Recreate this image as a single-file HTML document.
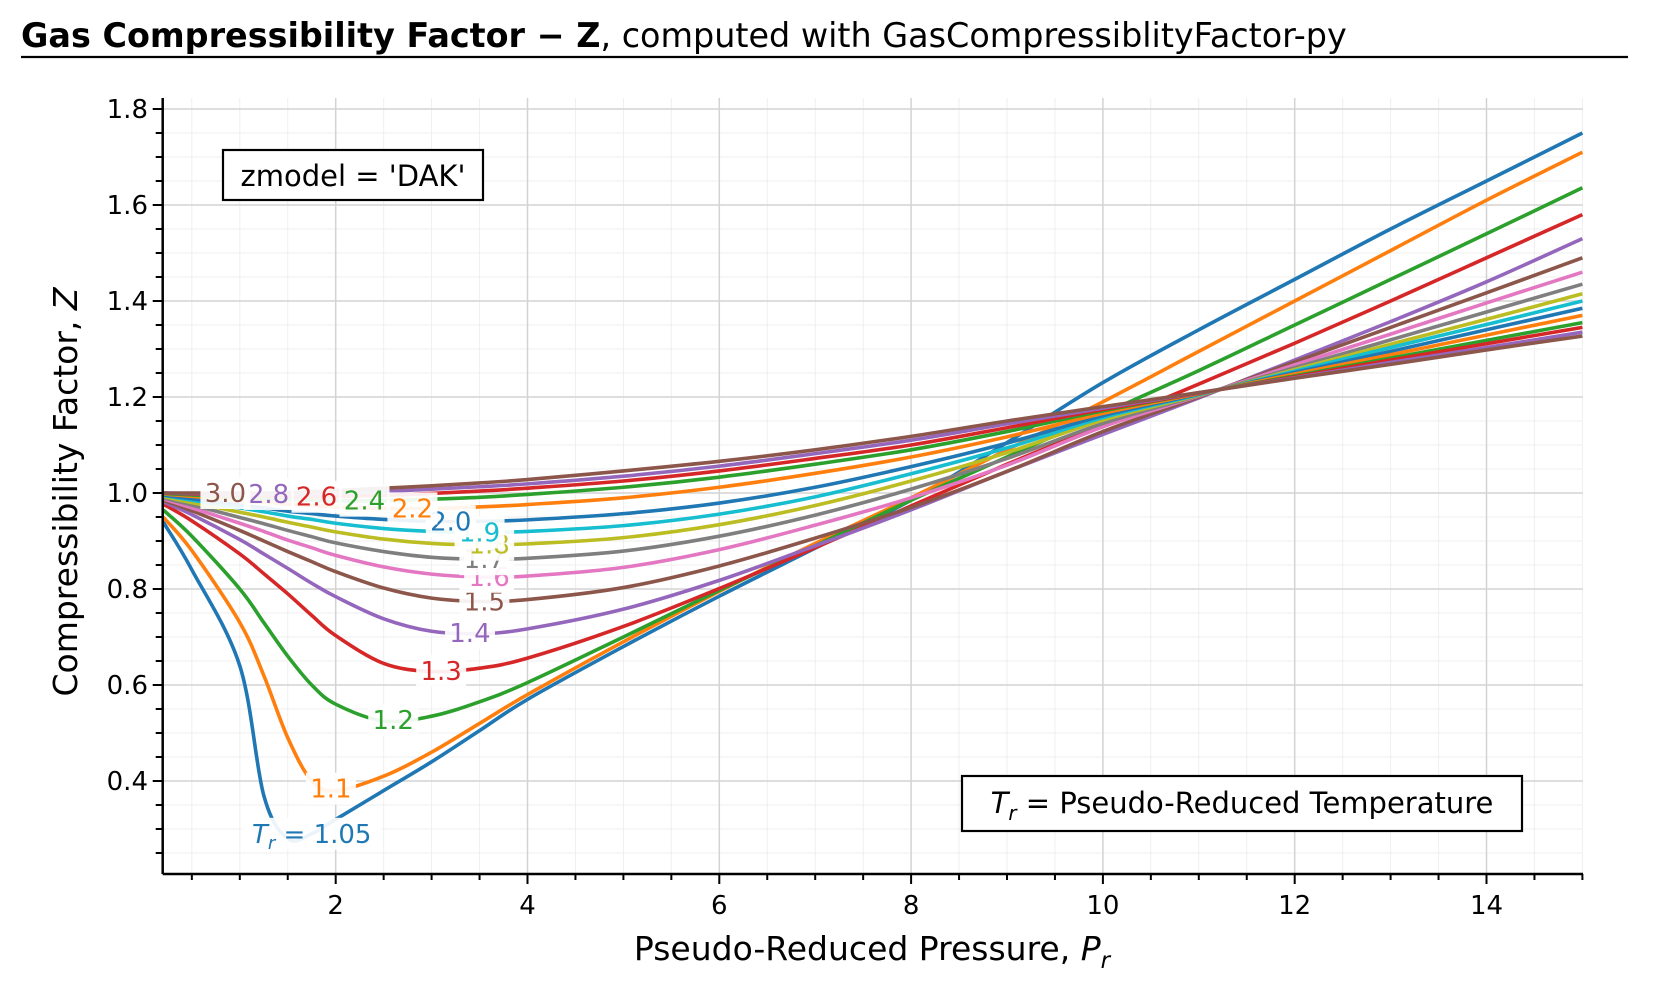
<!DOCTYPE html>
<html><head><meta charset="utf-8"><style>
html,body{margin:0;padding:0;background:#fff;width:1672px;height:988px;overflow:hidden}
svg{display:block;font-family:"DejaVu Sans","Liberation Sans",sans-serif}
</style></head><body>
<svg id="chart" width="1672" height="988" viewBox="0 0 1672 988">
<text x="21" y="47" font-size="33.4" fill="#000"><tspan font-weight="bold">Gas Compressibility Factor − Z</tspan>, computed with GasCompressiblityFactor-py</text>
<line x1="21" y1="57" x2="1628" y2="57" stroke="#000" stroke-width="2.2"/>
<g id="grid"></g>
<g id="series"></g>
<g id="labels"></g>
<g id="axes"></g>
<g>
<rect x="223" y="150" width="260" height="50" fill="#fff" stroke="#000" stroke-width="2.2"/>
<text x="353" y="186" font-size="29" text-anchor="middle">zmodel = 'DAK'</text>
</g>
<g>
<rect x="962" y="776" width="560" height="55" fill="#fff" stroke="#000" stroke-width="2.2"/>
<text x="1242" y="813" font-size="29" text-anchor="middle"><tspan font-style="italic">T<tspan font-size="20" dy="7">r</tspan></tspan><tspan dy="-7"> = Pseudo-Reduced Temperature</tspan></text>
</g>
<text x="872" y="960" font-size="33" text-anchor="middle">Pseudo-Reduced Pressure, <tspan font-style="italic">P<tspan font-size="23" dy="8">r</tspan></tspan></text>
<text transform="translate(77,492) rotate(-90)" font-size="33" text-anchor="middle">Compressibility Factor, <tspan font-style="italic">Z</tspan></text>
</svg>
<script>
const pr = [0.2,0.5,1,1.25,1.5,1.75,2,2.5,3,3.5,4,5,6,7,8,9,10,11,12,13,14,15];
const trLabels = ["1.05","1.1","1.2","1.3","1.4","1.5","1.6","1.7","1.8","1.9","2.0","2.2","2.4","2.6","2.8","3.0"];
const z105 = [0.94,0.84,0.64,0.37,0.28,0.29,0.32,0.38,0.44,0.505,0.57,0.68,0.785,0.885,0.985,1.105,1.23,1.34,1.445,1.55,1.65,1.75];
const z110 = [0.95,0.88,0.73,0.62,0.49,0.40,0.38,0.41,0.46,0.52,0.58,0.69,0.795,0.895,0.99,1.09,1.19,1.295,1.4,1.505,1.61,1.71];
const z120 = [0.965,0.91,0.80,0.73,0.66,0.60,0.56,0.525,0.535,0.565,0.605,0.70,0.797,0.89,0.985,1.075,1.165,1.255,1.35,1.445,1.54,1.636];
const z130 = [0.977,0.942,0.873,0.832,0.79,0.745,0.703,0.645,0.628,0.635,0.656,0.722,0.801,0.886,0.973,1.06,1.143,1.227,1.312,1.4,1.49,1.58];
const z140 = [0.982,0.955,0.903,0.873,0.843,0.812,0.784,0.738,0.712,0.707,0.717,0.758,0.818,0.89,0.965,1.045,1.122,1.198,1.277,1.357,1.44,1.53];
const z150 = [0.985,0.963,0.922,0.9,0.878,0.857,0.836,0.802,0.781,0.774,0.778,0.803,0.848,0.906,0.97,1.045,1.128,1.2,1.273,1.345,1.417,1.49];
const z160 = [0.988,0.969,0.937,0.92,0.902,0.886,0.87,0.846,0.831,0.825,0.827,0.845,0.882,0.933,0.99,1.058,1.138,1.202,1.267,1.331,1.396,1.46];
const z170 = [0.99,0.975,0.949,0.936,0.922,0.909,0.896,0.878,0.866,0.862,0.864,0.879,0.91,0.954,1.008,1.072,1.145,1.203,1.261,1.319,1.377,1.435];
const z180 = [0.993,0.98,0.96,0.95,0.939,0.929,0.919,0.904,0.895,0.892,0.894,0.907,0.934,0.974,1.025,1.084,1.152,1.204,1.257,1.31,1.362,1.415];
const z190 = [0.995,0.985,0.969,0.961,0.952,0.945,0.937,0.926,0.92,0.918,0.92,0.932,0.956,0.992,1.04,1.094,1.157,1.205,1.254,1.303,1.351,1.40];
const z200 = [0.996,0.988,0.975,0.969,0.962,0.957,0.952,0.945,0.941,0.941,0.944,0.957,0.979,1.012,1.055,1.104,1.161,1.206,1.251,1.295,1.34,1.385];
const z220 = [0.998,0.993,0.984,0.981,0.977,0.974,0.971,0.968,0.968,0.971,0.976,0.99,1.012,1.041,1.075,1.117,1.166,1.207,1.248,1.288,1.329,1.37];
const z240 = [0.999,0.996,0.99,0.988,0.986,0.985,0.984,0.984,0.987,0.991,0.997,1.012,1.033,1.06,1.09,1.128,1.171,1.208,1.244,1.281,1.318,1.355];
const z260 = [1.0,0.998,0.995,0.994,0.993,0.992,0.993,0.995,0.999,1.004,1.01,1.025,1.046,1.072,1.1,1.136,1.174,1.208,1.242,1.277,1.311,1.345];
const z280 = [1.0,0.999,0.998,0.998,0.998,0.999,1.0,1.003,1.008,1.013,1.019,1.035,1.056,1.082,1.11,1.144,1.177,1.209,1.24,1.272,1.303,1.335];
const z300 = [1.0,1.0,1.0,1.0,1.001,1.003,1.005,1.01,1.015,1.021,1.028,1.046,1.066,1.09,1.118,1.15,1.18,1.209,1.239,1.268,1.298,1.327];
const xTicks = [2,4,6,8,10,12,14];
const yTicks = [0.4,0.6,0.8,1.0,1.2,1.4,1.6,1.8];
const labelPr = [1.75,1.95,2.6,3.1,3.4,3.55,3.6,3.55,3.6,3.5,3.2,2.8,2.3,1.8,1.3,0.85];

const NS="http://www.w3.org/2000/svg";
const X0=162.7,X1=1583,Y0=874,YTOP=98;
const sx=v=>143.9+v*95.9;
const sy=v=>109+(1.8-v)*480;
function el(tag,attrs,parent){const e=document.createElementNS(NS,tag);for(const k in attrs)e.setAttribute(k,attrs[k]);parent.appendChild(e);return e;}
const grid=document.getElementById('grid'),axes=document.getElementById('axes'),series=document.getElementById('series'),labels=document.getElementById('labels');
for(let v=0.5;v<=15.001;v+=0.5){ if(Math.abs(v/2-Math.round(v/2))<1e-6) continue;
  const g=el('line',{x1:sx(v),x2:sx(v),y1:YTOP,y2:Y0,stroke:'#efefef','stroke-width':1},grid);
  
  
}
for(let i=5;i<=36;i++){const v=i*0.05; if(i%4===0) continue; const y=sy(v); if(y<YTOP||y>Y0) continue;
  const g=el('line',{x1:X0,x2:X1,y1:y,y2:y,stroke:'#efefef','stroke-width':1},grid);
  
  
}
xTicks.forEach(v=>{const g=el('line',{x1:sx(v),x2:sx(v),y1:YTOP,y2:Y0,stroke:'#d3d3d3','stroke-width':1.5},grid);
  
  });
yTicks.forEach(v=>{const g=el('line',{x1:X0,x2:X1,y1:sy(v),y2:sy(v),stroke:'#d3d3d3','stroke-width':1.5},grid);
  
  });
const allZ=[z105,z110,z120,z130,z140,z150,z160,z170,z180,z190,z200,z220,z240,z260,z280,z300];
const colors=['#1f77b4','#ff7f0e','#2ca02c','#d62728','#9467bd','#8c564b','#e377c2','#7f7f7f','#bcbd22','#17becf'];
function pathFor(zs){const p=pr.map((v,i)=>[sx(v),sy(zs[i])]);let d=`M${p[0][0]},${p[0][1]}`;
  for(let i=0;i<p.length-1;i++){const a=p[i-1]||p[i],b=p[i],c=p[i+1],e=p[i+2]||c;
    const c1=[b[0]+(c[0]-a[0])/6,b[1]+(c[1]-a[1])/6],c2=[c[0]-(e[0]-b[0])/6,c[1]-(e[1]-b[1])/6];
    d+=` C${c1[0]},${c1[1]} ${c2[0]},${c2[1]} ${c[0]},${c[1]}`;}
  return d;}
function zAt(zs,x){for(let i=0;i<pr.length-1;i++){if(x>=pr[i]&&x<=pr[i+1]){const t=(x-pr[i])/(pr[i+1]-pr[i]);return zs[i]+t*(zs[i+1]-zs[i]);}}return zs[zs.length-1];}
allZ.forEach((zs,i)=>{const p=el('path',{d:pathFor(zs),fill:'none',stroke:colors[i%10],'stroke-width':3.6,'stroke-linejoin':'round'},series);
  
  });
allZ.forEach((zs,i)=>{const x=sx(labelPr[i]),y=sy(zAt(zs,labelPr[i]));
  const w=i===0?140:50;
  const r=el('rect',{x:x-w/2,y:y-16,width:w,height:32,fill:'#fff','fill-opacity':0.92},labels);
  
  
  const t=el('text',{x:x,y:y+9,'font-size':26,'text-anchor':'middle',fill:colors[i%10]},labels);
  if(i===0){t.innerHTML='<tspan font-style="italic">T<tspan font-size="18" dy="6">r</tspan></tspan><tspan dy="-6"> = 1.05</tspan>';}else{t.textContent=trLabels[i];}
  
  });
const ax=el('line',{x1:X0,x2:X1,y1:Y0,y2:Y0,stroke:'#000','stroke-width':2.5},axes);


const ay=el('line',{x1:X0,x2:X0,y1:YTOP,y2:Y0,stroke:'#000','stroke-width':2.5},axes);


for(let v=0.5;v<=15.001;v+=0.5){const major=xTicks.some(t=>Math.abs(t-v)<1e-6);
  const t=el('line',{x1:sx(v),x2:sx(v),y1:Y0,y2:Y0+(major?10:6),stroke:'#000','stroke-width':2},axes);
  
  }
for(let i=5;i<=36;i++){const v=i*0.05;const y=sy(v);if(y>Y0)continue;const major=i%4===0;
  const t=el('line',{x1:X0,x2:X0-(major?10:7),y1:y,y2:y,stroke:'#000','stroke-width':2},axes);
  
  }
xTicks.forEach(v=>{const t=el('text',{x:sx(v),y:914,'font-size':26,'text-anchor':'middle'},axes);t.textContent=String(v);
  
  });
yTicks.forEach(v=>{const t=el('text',{x:148,y:sy(v)+9,'font-size':26,'text-anchor':'end'},axes);t.textContent=v.toFixed(1);
  
  });
</script>
</body></html>
